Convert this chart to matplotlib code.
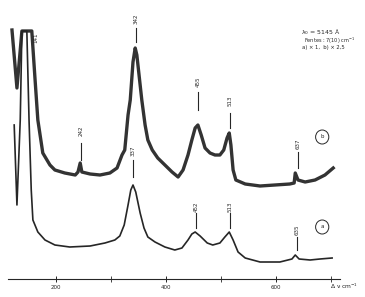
#Raman spectra a) and b), scanned-chart style
import matplotlib
matplotlib.use("Agg")
import matplotlib.pyplot as plt
from matplotlib.patches import Ellipse

# trace b (upper, x2.5), wavenumber cm-1 / intensity (arb.)
b_wn = [120, 129, 138, 156, 162, 167, 176, 189, 198, 216, 235, 240, 244, 247, 262, 280,
        298, 311, 320, 325, 331, 335, 340, 344, 347, 353, 356, 362, 367, 375, 385, 398,
        411, 422, 431, 440, 447, 453, 458, 464, 471, 480, 489, 498, 505, 511, 515, 518,
        522, 527, 544, 571, 598, 625, 633, 635, 640, 653, 671, 689, 704]
b_int = [249, 191, 248, 248, 199, 159, 126, 114, 109, 106, 104, 107, 116, 107, 105, 104,
         106, 111, 124, 129, 164, 179, 217, 231, 224, 194, 179, 154, 139, 129, 121, 114,
         107, 102, 109, 124, 139, 151, 154, 144, 131, 126, 124, 124, 129, 141, 146, 134,
         109, 99, 95, 93, 94, 95, 96, 106, 99, 97, 99, 104, 111]

# trace a (lower, x1)
a_wn = [124, 129, 135, 138, 147, 151, 155, 158, 167, 180, 198, 225, 262, 289, 307, 316,
        324, 331, 336, 340, 345, 353, 360, 367, 380, 398, 416, 429, 440, 447, 453, 462,
        475, 485, 498, 507, 515, 522, 531, 544, 571, 607, 629, 635, 642, 662, 680, 702]
a_int = [154, 74, 159, 248, 248, 159, 89, 59, 47, 39, 34, 32, 33, 36, 39, 43,
         54, 74, 89, 94, 87, 66, 51, 42, 37, 32, 29, 31, 39, 45, 47, 43,
         36, 34, 36, 42, 47, 39, 27, 21, 17, 17, 20, 24, 20, 19, 20, 21]

b_peaks = ["242", "342", "455", "513", "637"]
a_peaks = ["337", "452", "513", "635"]

ink = "#262626"
fig = plt.figure(figsize=(3.65, 2.97), dpi=100)
ax = fig.add_axes([0, 0, 1, 1])
ax.set_xlim(98.2, 761.8)
ax.set_ylim(-18, 279)

ax.plot(b_wn, b_int, color="#333333", lw=2.4, solid_joinstyle="round")
ax.plot(a_wn, a_int, color=ink, lw=1.2)

# peak markers: (label y, tick bottom, tick top)
b_pos = [(148, 119, 136), (260, 237, 251), (197, 169, 187), (178, 151, 166), (135, 111, 127)]
a_pos = [(128, 102, 119), (72, 51, 66), (72, 51, 66), (49, 29, 42)]
for labels, pos in ((b_peaks, b_pos), (a_peaks, a_pos)):
    for lab, (ty, y0, y1) in zip(labels, pos):
        x = float(lab) + 3
        ax.plot([x, x], [y0, y1], color=ink, lw=0.8)
        ax.text(x, ty, lab, rotation=90, ha="center", va="center", fontsize=4, color=ink)
ax.text(163, 241, "141", rotation=90, ha="center", va="center", fontsize=4, color=ink)

# circled trace letters
for yc, letter in ((142, "b"), (52, "a")):
    ax.add_patch(Ellipse((684, yc), 24, 14, fill=False, ec=ink, lw=0.7))
    ax.text(684, yc, letter, ha="center", va="center", fontsize=4, color=ink)

ax.text(645, 247, "λ$_0$ = 5145 Å", fontsize=4.5, color=ink, va="center")
ax.text(650, 238, "Fentes : 7(10) cm$^{-1}$", fontsize=3.6, color=ink, va="center")
ax.text(648, 231, "a) × 1,  b) × 2,5", fontsize=3.8, color=ink, va="center")

# x axis only
for s in ("top", "right", "left"):
    ax.spines[s].set_visible(False)
ax.spines["bottom"].set_position(("data", 0))
ax.spines["bottom"].set_bounds(113, 716)
ax.spines["bottom"].set_color(ink)
ax.spines["bottom"].set_linewidth(0.8)
ax.set_yticks([])
ax.set_xticks([200, 400, 600])
ax.set_xticks([300, 500, 700], minor=True)
ax.tick_params(axis="x", which="major", direction="inout", length=5, width=0.7,
               labelsize=4, pad=2, colors=ink)
ax.tick_params(axis="x", which="minor", direction="inout", length=4, width=0.6, colors=ink)
ax.text(698, -7, "Δ ν cm$^{-1}$", fontsize=4.3, color=ink, va="center")

fig.savefig("out.png", dpi=100)
